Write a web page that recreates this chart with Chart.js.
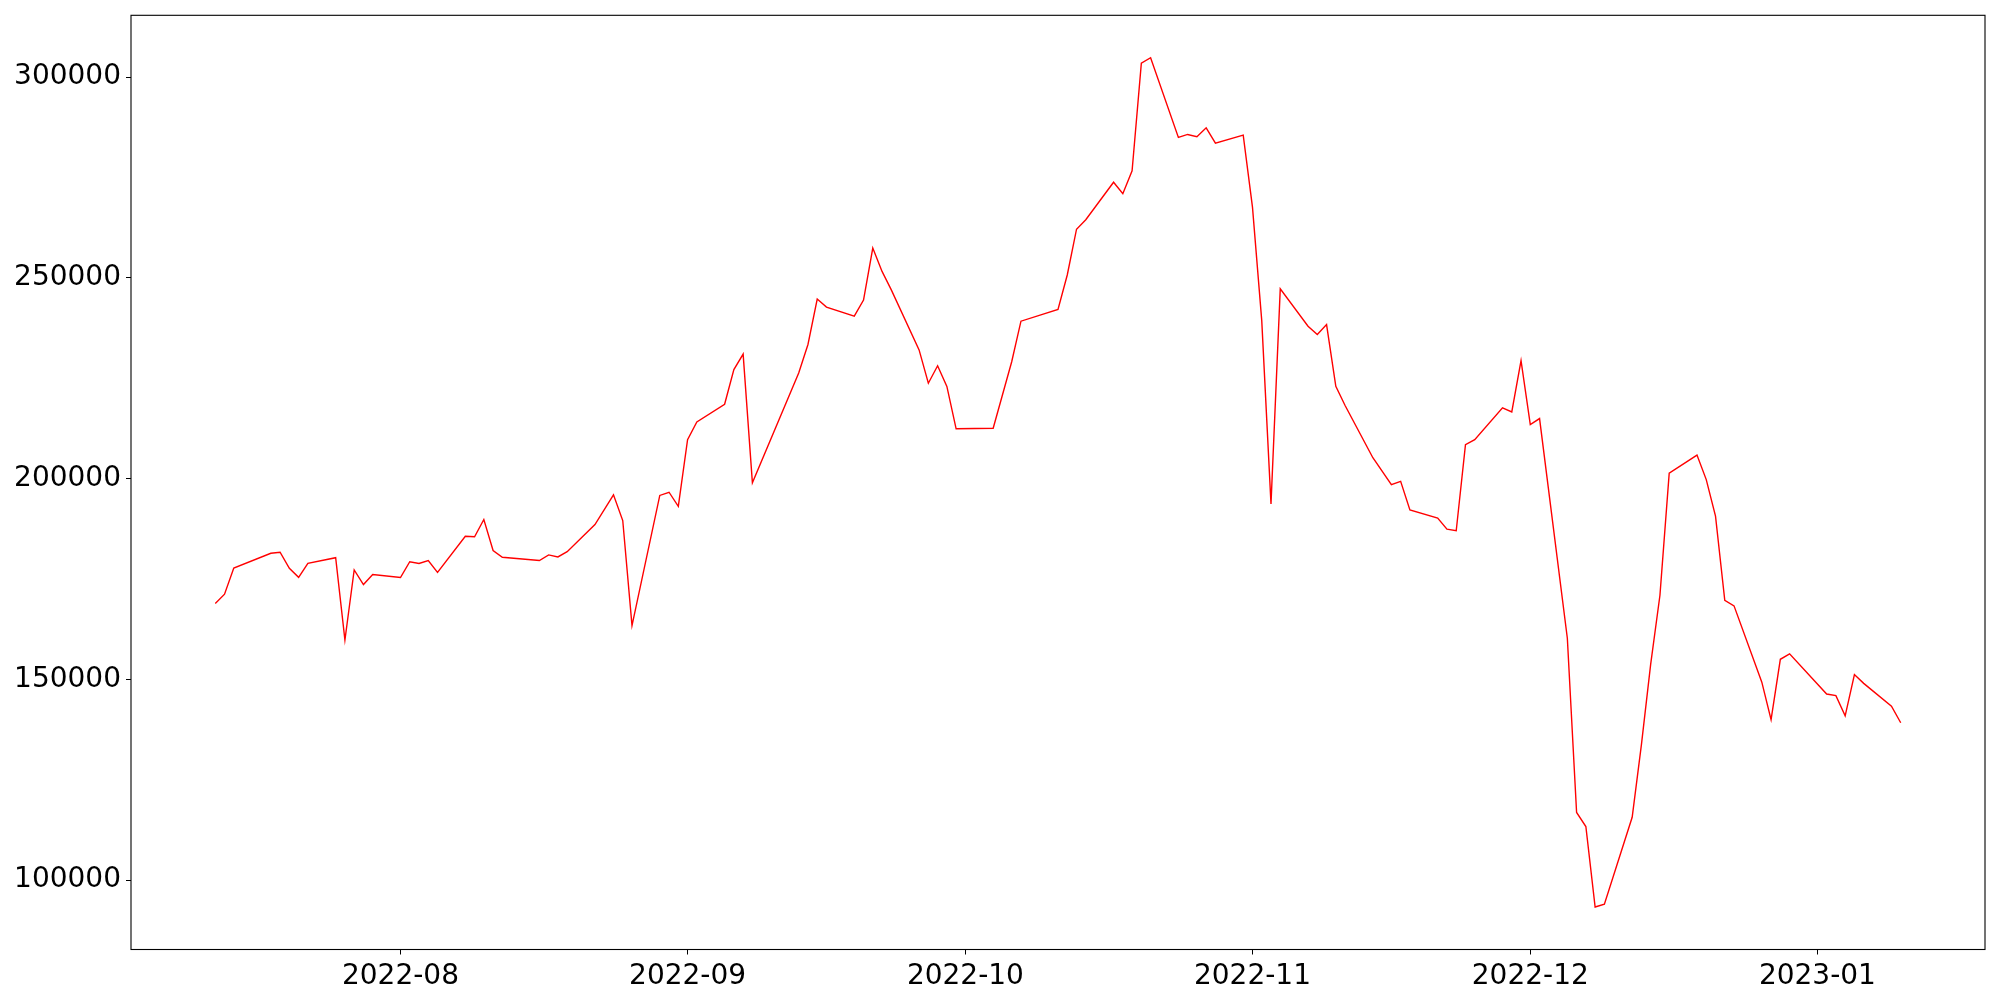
<!DOCTYPE html>
<html lang="en">

<head>
    <meta charset="UTF-8">
    <title>Serie</title>
    <script src="https://cdn.jsdelivr.net/npm/chart.js"></script>
    <style>
        body { margin: 0; background: #fff; }
        #box { width: 2000px; height: 1000px; }
    </style>
</head>

<body>
    <div id="box">
        <canvas id="grafico" width="2000" height="1000"></canvas>
    </div>

    <script>
        // datas e valores
        const datas = [
            '2022-07-12', '2022-07-13', '2022-07-14', '2022-07-18', '2022-07-19', '2022-07-20', '2022-07-21', '2022-07-22',
            '2022-07-25', '2022-07-26', '2022-07-27', '2022-07-28', '2022-07-29',
            '2022-08-01', '2022-08-02', '2022-08-03', '2022-08-04', '2022-08-05',
            '2022-08-08', '2022-08-09', '2022-08-10', '2022-08-11', '2022-08-12',
            '2022-08-16', '2022-08-17', '2022-08-18', '2022-08-19',
            '2022-08-22', '2022-08-24', '2022-08-25', '2022-08-26',
            '2022-08-29', '2022-08-30', '2022-08-31', '2022-09-01', '2022-09-02',
            '2022-09-05', '2022-09-06', '2022-09-07', '2022-09-08',
            '2022-09-13', '2022-09-14', '2022-09-15', '2022-09-16',
            '2022-09-19', '2022-09-20', '2022-09-21', '2022-09-22', '2022-09-23',
            '2022-09-26', '2022-09-27', '2022-09-28', '2022-09-29', '2022-09-30',
            '2022-10-04', '2022-10-06', '2022-10-07',
            '2022-10-11', '2022-10-12', '2022-10-13', '2022-10-14',
            '2022-10-17', '2022-10-18', '2022-10-19', '2022-10-20', '2022-10-21',
            '2022-10-24', '2022-10-25', '2022-10-26', '2022-10-27', '2022-10-28',
            '2022-10-31', '2022-11-01', '2022-11-02', '2022-11-03', '2022-11-04',
            '2022-11-07', '2022-11-08', '2022-11-09', '2022-11-10', '2022-11-11',
            '2022-11-14', '2022-11-16', '2022-11-17', '2022-11-18',
            '2022-11-21', '2022-11-22', '2022-11-23', '2022-11-24', '2022-11-25',
            '2022-11-28', '2022-11-29', '2022-11-30', '2022-12-01', '2022-12-02',
            '2022-12-05', '2022-12-06', '2022-12-07', '2022-12-08', '2022-12-09',
            '2022-12-12', '2022-12-13', '2022-12-14', '2022-12-15', '2022-12-16',
            '2022-12-19', '2022-12-20', '2022-12-21', '2022-12-22', '2022-12-23',
            '2022-12-26', '2022-12-27', '2022-12-28', '2022-12-29',
            '2023-01-02', '2023-01-03', '2023-01-04', '2023-01-05', '2023-01-06',
            '2023-01-09', '2023-01-10'
        ];

        const valores = [
            168900, 171200, 177700, 181400, 181650, 177650, 175400, 178900,
            180300, 159800, 177250, 173600, 176100,
            175350, 179300, 178850, 179600, 176650,
            185650, 185500, 189800, 182100, 180400,
            179600, 181000, 180500, 181800,
            188550, 195950, 189550, 163400,
            195800, 196600, 193100, 209700, 214100,
            218500, 227150, 231000, 198950,
            226300, 233400, 244700, 242700,
            240450, 244450, 257400, 251600, 247000,
            232050, 223750, 228100, 222950, 212400,
            212550, 229100, 239200,
            242100, 250700, 262100, 264450,
            273800, 270950, 276650, 303450, 304800,
            284950, 285700, 285150, 287350, 283550,
            285550, 267600, 239400, 193700, 247250,
            237950, 235900, 238350, 223000, 218200,
            205200, 198500, 199300, 192200,
            190150, 187400, 187000, 208450, 209700,
            217600, 216600, 229400, 213450, 214950,
            160250, 116850, 113350, 93300, 94000,
            115650, 133750, 153800, 170950, 201350,
            205850, 199750, 190650, 169700, 168300,
            149300, 139950, 155000, 156350,
            146350, 145950, 140900, 151200, 149000,
            143300, 139200
        ];

        const ticksX = ['2022-08-01', '2022-09-01', '2022-10-01', '2022-11-01', '2022-12-01', '2023-01-01'];
        const rotulosX = ['2022-08', '2022-09', '2022-10', '2022-11', '2022-12', '2023-01'];
        const ticksY = [100000, 150000, 200000, 250000, 300000];

        document.addEventListener('DOMContentLoaded', function () {
            const pontos = datas.map((d, i) => ({ x: Date.parse(d), y: valores[i] }));

            // margem de 5% como no matplotlib
            const xs = pontos.map(p => p.x);
            const xMin = Math.min(...xs), xMax = Math.max(...xs);
            const yMin = Math.min(...valores), yMax = Math.max(...valores);
            const mx = (xMax - xMin) * 0.05;
            const my = (yMax - yMin) * 0.05;

            const moldura = {
                id: 'moldura',
                afterDraw(chart) {
                    const a = chart.chartArea;
                    const c = chart.ctx;
                    c.save();
                    c.strokeStyle = '#000';
                    c.lineWidth = 1.1;
                    c.strokeRect(a.left, a.top, a.right - a.left, a.bottom - a.top);
                    c.restore();
                }
            };

            const fonte = { family: 'DejaVu Sans', size: 28 };

            const ctx = document.getElementById('grafico').getContext('2d');
            new Chart(ctx, {
                type: 'line',
                data: {
                    datasets: [{
                        data: pontos,
                        borderColor: 'red',
                        borderWidth: 1.4,
                        pointRadius: 0,
                        tension: 0,
                        fill: false
                    }]
                },
                options: {
                    responsive: false,
                    animation: false,
                    layout: { padding: { left: 0, top: 15.3, right: 15, bottom: 0 } },
                    plugins: {
                        legend: { display: false },
                        tooltip: { enabled: false }
                    },
                    scales: {
                        x: {
                            type: 'linear',
                            min: xMin - mx,
                            max: xMax + mx,
                            border: { display: false },
                            grid: { drawOnChartArea: false, color: '#000', tickLength: 5 },
                            afterBuildTicks: s => { s.ticks = ticksX.map(d => ({ value: Date.parse(d) })); },
                            afterFit: s => {
                                s.height = 50.5;
                                s.paddingLeft = 0;
                                s.paddingRight = 0;
                            },
                            ticks: {
                                autoSkip: false,
                                maxRotation: 0,
                                padding: 5,
                                color: '#000',
                                font: fonte,
                                callback: (v, i) => rotulosX[i]
                            }
                        },
                        y: {
                            min: yMin - my,
                            max: yMax + my,
                            border: { display: false },
                            grid: { drawOnChartArea: false, color: '#000', tickLength: 5 },
                            afterBuildTicks: s => { s.ticks = ticksY.map(v => ({ value: v })); },
                            afterFit: s => {
                                s.width = 131;
                                s.paddingTop = 0;
                                s.paddingBottom = 0;
                            },
                            ticks: {
                                padding: 5,
                                color: '#000',
                                font: fonte,
                                callback: v => String(v)
                            }
                        }
                    }
                },
                plugins: [moldura]
            });
        });
    </script>
</body>

</html>
